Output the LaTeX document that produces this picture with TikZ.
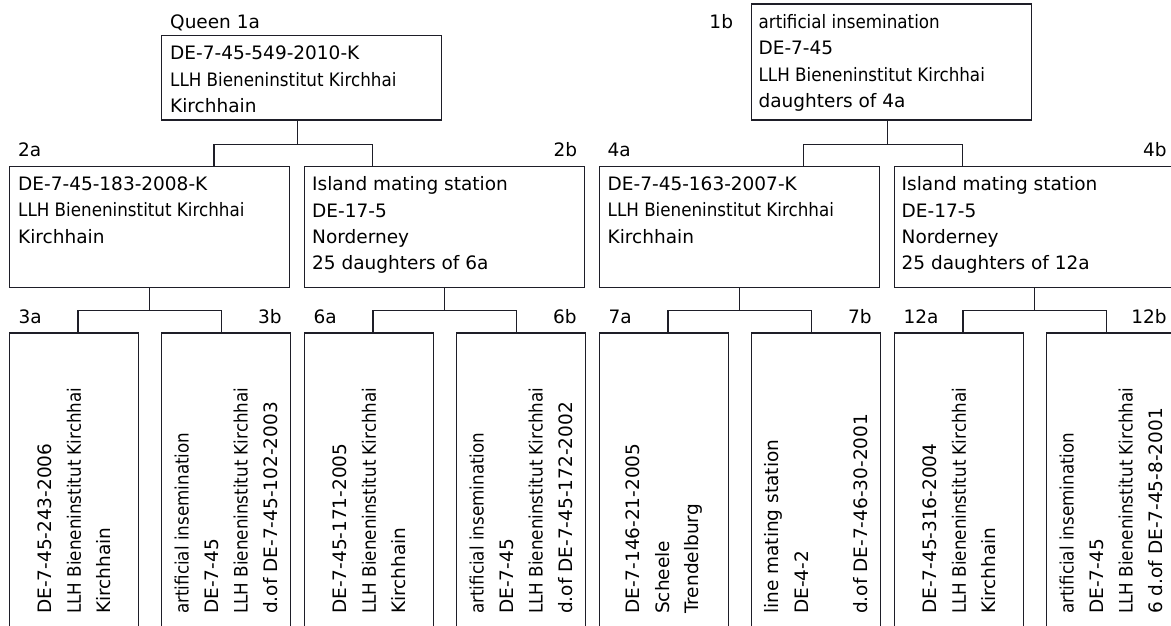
\documentclass[tikz,border=0pt]{standalone}
\usepackage{fontspec}
\setmainfont{DejaVu Sans}
\newfontfamily\condfont[FakeStretch=0.905]{DejaVu Sans}
\definecolor{pedline}{RGB}{30,30,40}

\begin{document}
\begin{tikzpicture}[x=1pt, y=-1pt,
    pedbox/.style={draw=pedline, line width=1.4pt, inner sep=0pt, anchor=north west},
    topbox/.style={pedbox, minimum width=280pt},
    midbox/.style={pedbox, minimum width=280pt, minimum height=121pt},
    lowbox/.style={pedbox, minimum width=129pt, minimum height=310pt},
    info/.style={anchor=north west, inner sep=0pt, align=left, font=\fontsize{18.5}{26.3}\selectfont},
    vinfo/.style={anchor=west, rotate=90, inner sep=0pt, align=left, font=\fontsize{18.5}{29.5}\selectfont},
    tag/.style={inner sep=0pt, font=\fontsize{18.5}{22}\selectfont},
    link/.style={draw=pedline, line width=1.4pt}]
    \clip (0,0) rectangle (1171,626);
    \coordinate (floor) at (0,614);

    % Queen and mother side
    \node[topbox, minimum height=84.3pt] (q1a) at (160.7,35) {};
    \node[topbox, minimum height=116pt] (q1b) at (750.7,3.3) {};
    \node[tag, anchor=base west] (l1a) at ([shift={(9.3,-6.7)}]q1a.north west) {Queen 1a};
    \node[tag, anchor=base east] (l1b) at ([shift={(-17.5,25)}]q1b.north west) {1b};
    \node[info] (t1a) at ([shift={(9.3,11)}]q1a.north west) {DE-7-45-549-2010-K\\{\condfont LLH Bieneninstitut Kirchhai}\\Kirchhain};
    \node[info] (t1b) at ([shift={(7.7,11)}]q1b.north west) {{\condfont artificial insemination}\\DE-7-45\\{\condfont LLH Bieneninstitut Kirchhai}\\daughters of 4a};

    % second generation
    \node[midbox] (q2a) at (9,165.7) {};
    \node[midbox] (q2b) at (304,165.7) {};
    \node[midbox] (q4a) at (598.5,165.7) {};
    \node[midbox] (q4b) at (893.5,165.7) {};
    \node[tag, anchor=base west] (l2a) at ([shift={(9,-9)}]q2a.north west) {2a};
    \node[tag, anchor=base east] (l2b) at ([shift={(-8,-9)}]q2b.north east) {2b};
    \node[tag, anchor=base west] (l4a) at ([shift={(9,-9)}]q4a.north west) {4a};
    \node[tag, anchor=base east] (l4b) at ([shift={(-8,-9)}]q4b.north east) {4b};
    \node[info] (t2a) at ([shift={(9,11)}]q2a.north west) {DE-7-45-183-2008-K\\{\condfont LLH Bieneninstitut Kirchhai}\\Kirchhain};
    \node[info] (t2b) at ([shift={(8,11)}]q2b.north west) {Island mating station\\DE-17-5\\Norderney\\25 daughters of 6a};
    \node[info] (t4a) at ([shift={(9,11)}]q4a.north west) {DE-7-45-163-2007-K\\{\condfont LLH Bieneninstitut Kirchhai}\\Kirchhain};
    \node[info] (t4b) at ([shift={(8,11)}]q4b.north west) {Island mating station\\DE-17-5\\Norderney\\25 daughters of 12a};

    % third generation
    \node[lowbox] (q3a) at (9,332.3) {};
    \node[lowbox] (q3b) at (160.7,332.3) {};
    \node[lowbox] (q6a) at (304,332.3) {};
    \node[lowbox] (q6b) at (455.7,332.3) {};
    \node[lowbox] (q7a) at (599,332.3) {};
    \node[lowbox] (q7b) at (750.7,332.3) {};
    \node[lowbox] (q12a) at (894,332.3) {};
    \node[lowbox] (q12b) at (1045.7,332.3) {};
    \node[tag, anchor=base west] (l3a) at ([shift={(9.3,-9)}]q3a.north west) {3a};
    \node[tag, anchor=base east] (l3b) at ([shift={(-9.3,-9)}]q3b.north east) {3b};
    \node[tag, anchor=base west] (l6a) at ([shift={(9.3,-9)}]q6a.north west) {6a};
    \node[tag, anchor=base east] (l6b) at ([shift={(-9.3,-9)}]q6b.north east) {6b};
    \node[tag, anchor=base west] (l7a) at ([shift={(9.3,-9)}]q7a.north west) {7a};
    \node[tag, anchor=base east] (l7b) at ([shift={(-9.3,-9)}]q7b.north east) {7b};
    \node[tag, anchor=base west] (l12a) at ([shift={(9.3,-9)}]q12a.north west) {12a};
    \node[tag, anchor=base east] (l12b) at ([shift={(-9.3,-9)}]q12b.north east) {12b};
    \node[vinfo] (t3a) at (q3a.north |- floor) {DE-7-45-243-2006\\{\condfont LLH Bieneninstitut Kirchhai}\\Kirchhain};
    \node[vinfo] (t3b) at (q3b.north |- floor) {{\condfont artificial insemination}\\DE-7-45\\{\condfont LLH Bieneninstitut Kirchhai}\\d.of DE-7-45-102-2003};
    \node[vinfo] (t6a) at (q6a.north |- floor) {DE-7-45-171-2005\\{\condfont LLH Bieneninstitut Kirchhai}\\Kirchhain};
    \node[vinfo] (t6b) at (q6b.north |- floor) {{\condfont artificial insemination}\\DE-7-45\\{\condfont LLH Bieneninstitut Kirchhai}\\d.of DE-7-45-172-2002};
    \node[vinfo] (t7a) at (q7a.north |- floor) {DE-7-146-21-2005\\Scheele\\Trendelburg};
    \node[vinfo] (t7b) at (q7b.north |- floor) {line mating station\\DE-4-2\\\mbox{}\\d.of DE-7-46-30-2001};
    \node[vinfo] (t12a) at (q12a.north |- floor) {DE-7-45-316-2004\\{\condfont LLH Bieneninstitut Kirchhai}\\Kirchhain};
    \node[vinfo] (t12b) at (q12b.north |- floor) {{\condfont artificial insemination}\\DE-7-45\\{\condfont LLH Bieneninstitut Kirchhai}\\6 d.of DE-7-45-8-2001};

    % brackets
    \draw[link] ([xshift=-4pt]q1a.south) -- ++(0,23.7) coordinate (j1a);
    \draw[link] ([xshift=64.2pt]q2a.north) |- (j1a) -| ([xshift=-72pt]q2b.north);
    \draw[link] ([xshift=-4pt]q1b.south) -- ++(0,23.7) coordinate (j1b);
    \draw[link] ([xshift=64.2pt]q4a.north) |- (j1b) -| ([xshift=-72pt]q4b.north);
    \draw[link] (q2a.south) -- ++(0,22.6) coordinate (j2a);
    \draw[link] ([xshift=3.8pt]q3a.north) |- (j2a) -| ([xshift=-4.2pt]q3b.north);
    \draw[link] (q2b.south) -- ++(0,22.6) coordinate (j2b);
    \draw[link] ([xshift=3.8pt]q6a.north) |- (j2b) -| ([xshift=-4.2pt]q6b.north);
    \draw[link] (q4a.south) -- ++(0,22.6) coordinate (j4a);
    \draw[link] ([xshift=3.8pt]q7a.north) |- (j4a) -| ([xshift=-4.2pt]q7b.north);
    \draw[link] (q4b.south) -- ++(0,22.6) coordinate (j4b);
    \draw[link] ([xshift=3.8pt]q12a.north) |- (j4b) -| ([xshift=-4.2pt]q12b.north);
\end{tikzpicture}
\end{document}
